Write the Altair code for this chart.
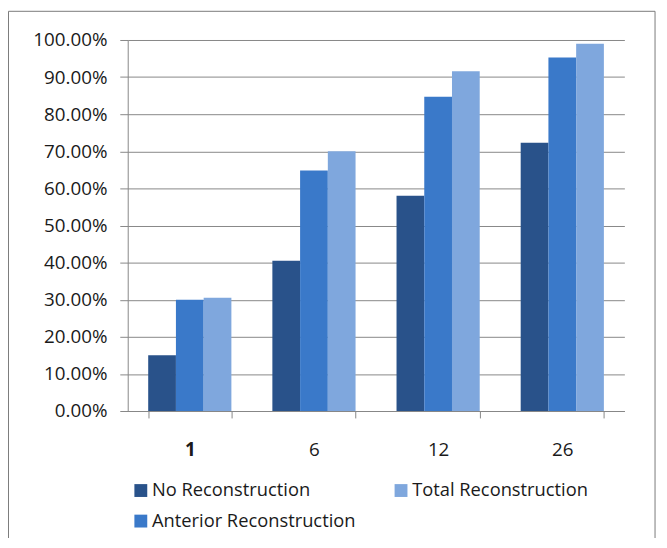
import altair as alt
import pandas as pd

categories = ["1", "6", "12", "26"]
series = ["No Reconstruction", "Anterior Reconstruction", "Total Reconstruction"]
no_recon = [0.15, 0.405, 0.58, 0.723]
anterior_recon = [0.30, 0.648, 0.847, 0.953]
total_recon = [0.305, 0.70, 0.916, 0.99]
y_ticks = [0.0, 0.1, 0.2, 0.3, 0.4, 0.5, 0.6, 0.7, 0.8, 0.9, 1.0]

colors = {"No Reconstruction": "#29528A",
          "Anterior Reconstruction": "#3A79C9",
          "Total Reconstruction": "#7FA7DD"}

rows = []
for i, c in enumerate(categories):
    for s, vals in zip(series, [no_recon, anterior_recon, total_recon]):
        rows.append({"week": c, "series": s, "value": vals[i]})
df = pd.DataFrame(rows)

FONT = "Open Sans"
W, H = 502, 375
GRAY = "#878787"

bars = alt.Chart(df).mark_bar().encode(
    x=alt.X("week:N", sort=categories,
            scale=alt.Scale(paddingInner=0.33, paddingOuter=0.165),
            axis=alt.Axis(title=None, labelAngle=0, tickBand="extent",
                          ticks=True, tickSize=7, tickColor=GRAY,
                          domainColor=GRAY, grid=False,
                          labelFont=FONT, labelFontSize=19, labelColor="#1a1a1a",
                          labelBaseline="middle", labelPadding=32,
                          labelFontWeight=alt.condition("datum.value == '1'",
                                                        alt.value("bold"),
                                                        alt.value("normal")))),
    xOffset=alt.XOffset("series:N", sort=series, scale=alt.Scale(paddingInner=0, paddingOuter=0)),
    y=alt.Y("value:Q", scale=alt.Scale(domain=[0, 1], nice=False),
            axis=alt.Axis(title=None, values=y_ticks, format=".2%",
                          tickSize=8, tickColor=GRAY, domainColor=GRAY,
                          gridColor=GRAY, labelFont=FONT, labelFontSize=19,
                          labelColor="#1a1a1a", labelPadding=13)),
    color=alt.Color("series:N",
                    scale=alt.Scale(domain=series,
                                    range=[colors[s] for s in series]),
                    legend=alt.Legend(title=None, orient="none", legendX=4, legendY=446,
                                      columns=2, columnPadding=36, rowPadding=12,
                                      symbolType="square", symbolSize=169,
                                      symbolStrokeWidth=0, labelOffset=2,
                                      labelFont=FONT, labelFontSize=18.5, labelLimit=0,
                                      labelColor="#1a1a1a", padding=0)),
)

frame_df = pd.DataFrame({"k": [0]})
frame_left = alt.Chart(frame_df).mark_rule(color="#7a7a7a", strokeWidth=1).encode(
    x=alt.value(-120.5), y=alt.value(-29), y2=alt.value(H + 200))
frame_top = alt.Chart(frame_df).mark_rule(color="#7a7a7a", strokeWidth=1).encode(
    x=alt.value(-120.5), x2=alt.value(533), y=alt.value(-29))
frame_right = alt.Chart(frame_df).mark_rule(color="#7a7a7a", strokeWidth=1).encode(
    x=alt.value(533), y=alt.value(-29), y2=alt.value(H + 200))

chart = alt.layer(bars, frame_left, frame_top, frame_right).properties(
    width=W, height=H,
    autosize=alt.AutoSizeParams(type="none"),
    padding={"left": 121, "top": 29.5, "right": 35, "bottom": 125},
    background="white",
).configure_view(stroke=None)

chart.save("out.html", embed_options={"renderer": "svg", "actions": False})
